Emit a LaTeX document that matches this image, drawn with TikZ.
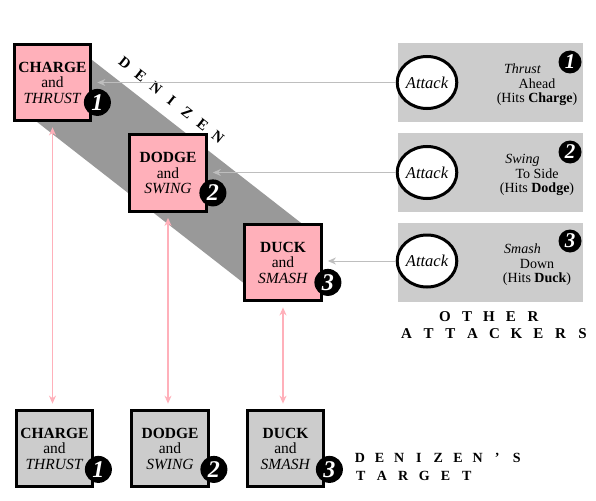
\documentclass[tikz,border=0pt]{standalone}
\usepackage{fontspec}
\setmainfont{Liberation Serif}
\usetikzlibrary{arrows.meta,shapes.geometric,calc}
\definecolor{boxpink}{RGB}{255,176,186}
\definecolor{bandgray}{RGB}{153,153,153}
\definecolor{panelgray}{RGB}{204,204,204}
\definecolor{arrowgray}{RGB}{190,190,190}
\newlength{\ltrpitch}
\def\trackedloop#1{\ifx#1\relax\else\makebox[\ltrpitch][c]{#1}\expandafter\trackedloop\fi}
\newcommand{\tracked}[2]{\setlength{\ltrpitch}{#1}\trackedloop#2\relax}
\begin{document}
\begin{tikzpicture}[x=1pt,y=-1pt,
  card/.style={draw=black,line width=3.3pt,minimum width=76.5pt,minimum height=76.5pt,inner sep=0pt,align=center,font=\fontsize{15.5}{15.5}\selectfont},
  pinkcard/.style={card,fill=boxpink},
  graycard/.style={card,fill=panelgray},
  badge/.style={circle,fill=black,inner sep=0pt,minimum size=27pt,text=white,font=\fontsize{24}{24}\selectfont\bfseries\itshape},
  smallbadge/.style={badge,minimum size=23pt,font=\fontsize{21}{21}\selectfont\bfseries\itshape},
  panel/.style={fill=panelgray,inner sep=0pt,minimum width=185pt,minimum height=79pt},
  attack/.style={ellipse,draw=black,fill=white,line width=3pt,minimum width=57pt,minimum height=52pt,inner sep=0pt,font=\fontsize{16.5}{16.5}\selectfont\itshape},
  paneltext/.style={align=center,inner sep=0pt,font=\fontsize{14}{14.5}\selectfont},
  hit/.style={draw=arrowgray,line width=1pt,-{Stealth[width=7pt,length=8pt]},shorten >=5pt},
  link/.style={draw=boxpink,line width=1.2pt,{Stealth[width=7pt,length=8pt]}-{Stealth[width=7pt,length=8pt]},shorten >=5pt,shorten <=5pt},
  spaced/.style={inner sep=0pt,font=\fontsize{15}{17}\selectfont\bfseries}
]
\useasboundingbox (0,0) rectangle (596,500);
\fill[white] (0,0) rectangle (596,500);

% diagonal band behind the denizen's boxes
\fill[bandgray] (80,50.6) -- (305,226) -- (250,288) -- (30,116.5) -- cycle;
\node[spaced,rotate=-38.5] (den) at (171.5,100) {\tracked{19.8pt}{DENIZEN}};

% attacker panels
\node[panel] (p1) at (490.5,82.5) {};
\node[panel] (p2) at (490.5,172.5) {};
\node[panel] (p3) at (490.5,262.5) {};

\node[attack] (a1) at (427,82.5) {Attack};
\node[attack] (a2) at (427,172.5) {Attack};
\node[attack] (a3) at (427,261) {Attack};

\node[paneltext] (d1) at (537,85) {\textit{Thrust}\hspace*{29pt}\\Ahead\hspace*{29pt}\\(Hits \textbf{Charge})};
\node[paneltext] (d2) at (537,175) {\textit{Swing}\hspace*{29pt}\\To Side\hspace*{29pt}\\(Hits \textbf{Dodge})};
\node[paneltext] (d3) at (537,265) {\textit{Smash}\hspace*{29pt}\\Down\hspace*{29pt}\\(Hits \textbf{Duck})};

\node[smallbadge] (q1) at (570,62) {1};
\node[smallbadge] (q2) at (570,152) {2};
\node[smallbadge] (q3) at (570,241) {3};

\node[spaced,align=center] (oth) at (494.5,325.5) {\tracked{22pt}{OTHER}\hspace*{11pt}\\\tracked{22pt}{ATTACKERS}};

% denizen's boxes
\node[pinkcard] (c1) at (52.5,82.5) {\textbf{CHARGE}\\and\\\textit{THRUST}};
\node[pinkcard] (c2) at (168,173) {\textbf{DODGE}\\and\\\textit{SWING}};
\node[pinkcard] (c3) at (283,262.5) {\textbf{DUCK}\\and\\\textit{SMASH}};

% target's boxes
\node[graycard] (t1) at (54.5,448.5) {\textbf{CHARGE}\\and\\\textit{THRUST}};
\node[graycard] (t2) at (170,448.5) {\textbf{DODGE}\\and\\\textit{SWING}};
\node[graycard] (t3) at (285.5,448.5) {\textbf{DUCK}\\and\\\textit{SMASH}};

\node[badge] (n1) at ($(c1.south east)+(5,-20)$) {1};
\node[badge] (n2) at ($(c2.south east)+(5,-20)$) {2};
\node[badge] (n3) at ($(c3.south east)+(5,-20)$) {3};
\node[badge] (m1) at ($(t1.south east)+(4,-19)$) {1};
\node[badge] (m2) at ($(t2.south east)+(4,-19)$) {2};
\node[badge] (m3) at ($(t3.south east)+(4,-19)$) {3};

\node[inner sep=0pt,anchor=west,align=left,font=\fontsize{14}{18}\selectfont\bfseries] (tgt) at (350,467) {\tracked{19.6pt}{DENIZEN'S}\\\tracked{21.2pt}{TARGET}};

% connectors
\draw[hit] (a1.west) -- (a1.west -| c1.east);
\draw[hit] (a2.west) -- (a2.west -| c2.east);
\draw[hit] (a3.west) -- (a3.west -| c3.east);

\draw[link] (c1.south) -- (c1.south |- t1.north);
\draw[link] (c2.south) -- (c2.south |- t2.north);
\draw[link] (c3.south) -- (c3.south |- t3.north);
\end{tikzpicture}
\end{document}
